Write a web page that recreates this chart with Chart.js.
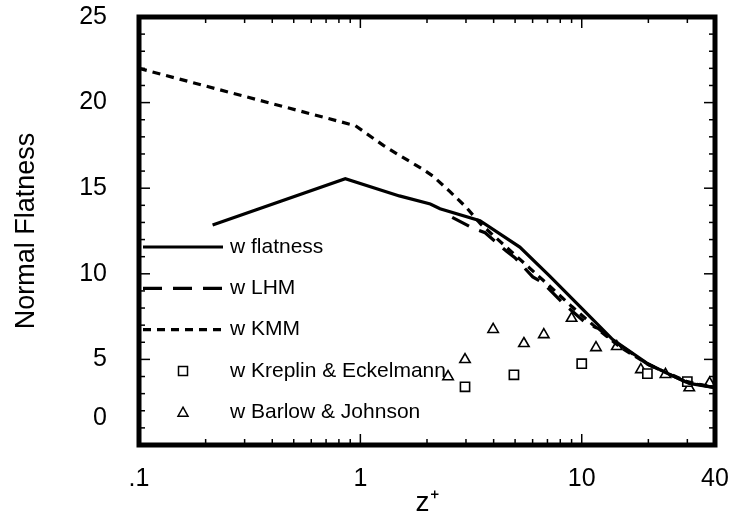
<!DOCTYPE html>
<html>
<head>
<meta charset="utf-8">
<script src="https://cdn.jsdelivr.net/npm/chart.js@4.4.0/dist/chart.umd.min.js"></script>
<style>
  html, body { margin: 0; padding: 0; background: #fff; }
</style>
</head>
<body>
<canvas id="chart" width="731" height="520"></canvas>
<script>
// w flatness (solid)
const flatX = [0.215, 0.855, 1.5, 2.07, 2.29, 3.47, 5.25, 7.17, 9.8, 13.8, 19.6, 24.2, 30.6, 40];
const flatY = [12.85, 15.55, 14.55, 14.08, 13.8, 13.1, 11.56, 9.86, 8.1, 6.16, 4.8, 4.2, 3.6, 3.35];
// w LHM (long dash)
const lhmX = [2.6, 3.18, 3.66, 4.59, 4.99, 6.01, 6.67, 8.2, 10.5, 11.9, 13.5, 20, 30, 40];
const lhmY = [13.3, 12.7, 12.4, 11.3, 10.94, 9.82, 9.47, 8.3, 7.1, 6.8, 6.2, 4.7, 3.65, 3.35];
// w KMM (short dash)
const kmmX = [0.1, 0.95, 1.27, 1.51, 1.92, 2.13, 2.54, 3.0, 3.5, 5.0, 7.0, 9.0, 12.0, 15.0, 20, 30, 40];
const kmmY = [22.0, 18.65, 17.5, 16.9, 16.1, 15.7, 14.8, 13.9, 12.9, 11.1, 9.4, 8.1, 6.7, 5.7, 4.7, 3.7, 3.35];
// w Kreplin & Eckelmann (squares)
const kreX = [2.97, 4.94, 10.0, 19.8, 30];
const kreY = [3.4, 4.1, 4.75, 4.17, 3.7];
// w Barlow & Johnson (triangles)
const barX = [2.49, 2.97, 3.98, 5.48, 6.74, 9.0, 11.6, 14.4, 18.5, 23.9, 30.6, 37.8];
const barY = [3.99, 4.99, 6.75, 5.93, 6.45, 7.4, 5.69, 5.75, 4.4, 4.12, 3.34, 3.62];

const xTicks = [0.1, 1, 10, 40];
const xTickLabels = ['.1', '1', '10', '40'];
const xMinor = [0.2, 0.3, 0.4, 0.5, 0.6, 0.7, 0.8, 0.9, 2, 3, 4, 5, 6, 7, 8, 9, 20, 30];
const yMajor = [5, 10, 15, 20];
const yMinor = [1, 2, 3, 4, 6, 7, 8, 9, 11, 12, 13, 14, 16, 17, 18, 19, 21, 22, 23, 24];

const pts = (xs, ys) => xs.map((x, i) => ({ x: x, y: ys[i] }));
const FONT = 'Liberation Sans, Arial, Helvetica, sans-serif';

// no label overhang, the layout padding alone fixes the plot box
const noOverhang = s => {
    s.paddingTop = 0;
    s.paddingBottom = 0;
    s.paddingLeft = 0;
    s.paddingRight = 0;
};

// frame and inward ticks
const framePlugin = {
    id: 'frame',
    afterDatasetsDraw(chart) {
        const { ctx, chartArea: a, scales } = chart;
        ctx.save();
        ctx.strokeStyle = '#000';
        ctx.lineWidth = 1.5;
        const tick = (x1, y1, x2, y2) => { ctx.beginPath(); ctx.moveTo(x1, y1); ctx.lineTo(x2, y2); ctx.stroke(); };
        [1, 10].forEach(v => {
            const px = scales.x.getPixelForValue(v);
            tick(px, a.bottom, px, a.bottom - 11);
            tick(px, a.top, px, a.top + 11);
        });
        xMinor.forEach(v => {
            const px = scales.x.getPixelForValue(v);
            tick(px, a.bottom, px, a.bottom - 6);
            tick(px, a.top, px, a.top + 6);
        });
        yMajor.forEach(v => {
            const py = scales.y.getPixelForValue(v);
            tick(a.left, py, a.left + 11, py);
            tick(a.right, py, a.right - 11, py);
        });
        yMinor.forEach(v => {
            const py = scales.y.getPixelForValue(v);
            tick(a.left, py, a.left + 6, py);
            tick(a.right, py, a.right - 6, py);
        });
        ctx.lineWidth = 5;
        ctx.strokeRect(a.left, a.top, a.right - a.left, a.bottom - a.top);
        // the zero label sits a little above the axis
        ctx.fillStyle = '#000';
        ctx.font = '25px ' + FONT;
        ctx.textAlign = 'right';
        ctx.textBaseline = 'middle';
        ctx.fillText('0', a.left - 32, scales.y.getPixelForValue(0) - 27);
        ctx.restore();
    }
};

// legend inside the plot, on the left
const legendPlugin = {
    id: 'innerLegend',
    afterDatasetsDraw(chart) {
        const { ctx, chartArea: a } = chart;
        ctx.save();
        ctx.font = '21px ' + FONT;
        ctx.textBaseline = 'middle';
        ctx.textAlign = 'left';
        chart.data.datasets.forEach((ds, i) => {
            const y = 247 + i * 41.3;
            ctx.strokeStyle = '#000';
            if (ds.showLine) {
                ctx.lineWidth = ds.borderWidth;
                ctx.setLineDash(ds.borderDash || []);
                ctx.beginPath();
                ctx.moveTo(a.left + 4, y);
                ctx.lineTo(a.left + 84, y);
                ctx.stroke();
                ctx.setLineDash([]);
            } else {
                const x = a.left + 44, r = 5;
                ctx.lineWidth = 1.5;
                ctx.beginPath();
                if (ds.pointStyle === 'rect') {
                    ctx.rect(x - 4.5, y - 4.5, 9, 9);
                } else {
                    ctx.moveTo(x, y - r);
                    ctx.lineTo(x + r, y + r * 0.8);
                    ctx.lineTo(x - r, y + r * 0.8);
                    ctx.closePath();
                }
                ctx.stroke();
            }
            ctx.fillStyle = '#000';
            ctx.fillText(ds.label, a.left + 91, y);
        });
        ctx.restore();
    }
};

new Chart(document.getElementById('chart'), {
    type: 'scatter',
    data: {
        datasets: [
            { label: 'w flatness', data: pts(flatX, flatY), showLine: true, borderColor: '#000', borderWidth: 3.2, pointRadius: 0, tension: 0 },
            { label: 'w LHM', data: pts(lhmX, lhmY), showLine: true, borderColor: '#000', borderWidth: 3.2, borderDash: [19, 11], pointRadius: 0, tension: 0 },
            { label: 'w KMM', data: pts(kmmX, kmmY), showLine: true, borderColor: '#000', borderWidth: 3.2, borderDash: [8, 6], pointRadius: 0, tension: 0 },
            { label: 'w Kreplin & Eckelmann', data: pts(kreX, kreY), showLine: false, pointStyle: 'rect', pointRadius: 6.5, borderColor: '#000', backgroundColor: '#fff', borderWidth: 1.6 },
            { label: 'w Barlow & Johnson', data: pts(barX, barY), showLine: false, pointStyle: 'triangle', pointRadius: 6, borderColor: '#000', backgroundColor: '#fff', borderWidth: 1.6 }
        ]
    },
    options: {
        responsive: false,
        animation: false,
        devicePixelRatio: 1,
        layout: { padding: { top: 17, right: 16, left: 0, bottom: 0 } },
        plugins: { legend: { display: false }, tooltip: { enabled: false } },
        scales: {
            x: {
                type: 'logarithmic',
                min: 0.1,
                max: 40,
                grid: { display: false, drawTicks: false },
                border: { display: false },
                afterBuildTicks: s => { s.ticks = xTicks.map(v => ({ value: v })); },
                afterFit: s => { s.height = 75; noOverhang(s); },
                ticks: {
                    autoSkip: false,
                    maxRotation: 0,
                    padding: 19,
                    color: '#000',
                    font: { family: FONT, size: 25 },
                    callback: (v, i) => xTickLabels[i]
                },
                title: {
                    display: true,
                    text: 'z\u207A',
                    color: '#000',
                    font: { family: FONT, size: 28 },
                    padding: { top: 0, bottom: 0 }
                }
            },
            y: {
                min: 0,
                max: 25,
                grid: { display: false, drawTicks: false },
                border: { display: false },
                afterFit: s => { s.width = 139; noOverhang(s); },
                ticks: {
                    stepSize: 5,
                    padding: 32,
                    color: '#000',
                    font: { family: FONT, size: 25 },
                    callback: v => (v === 0 ? '' : v)
                },
                title: {
                    display: true,
                    text: 'Normal Flatness',
                    color: '#000',
                    font: { family: FONT, size: 27 },
                    padding: { top: 10, bottom: 0 }
                }
            }
        }
    },
    plugins: [framePlugin, legendPlugin]
});
</script>
</body>
</html>
